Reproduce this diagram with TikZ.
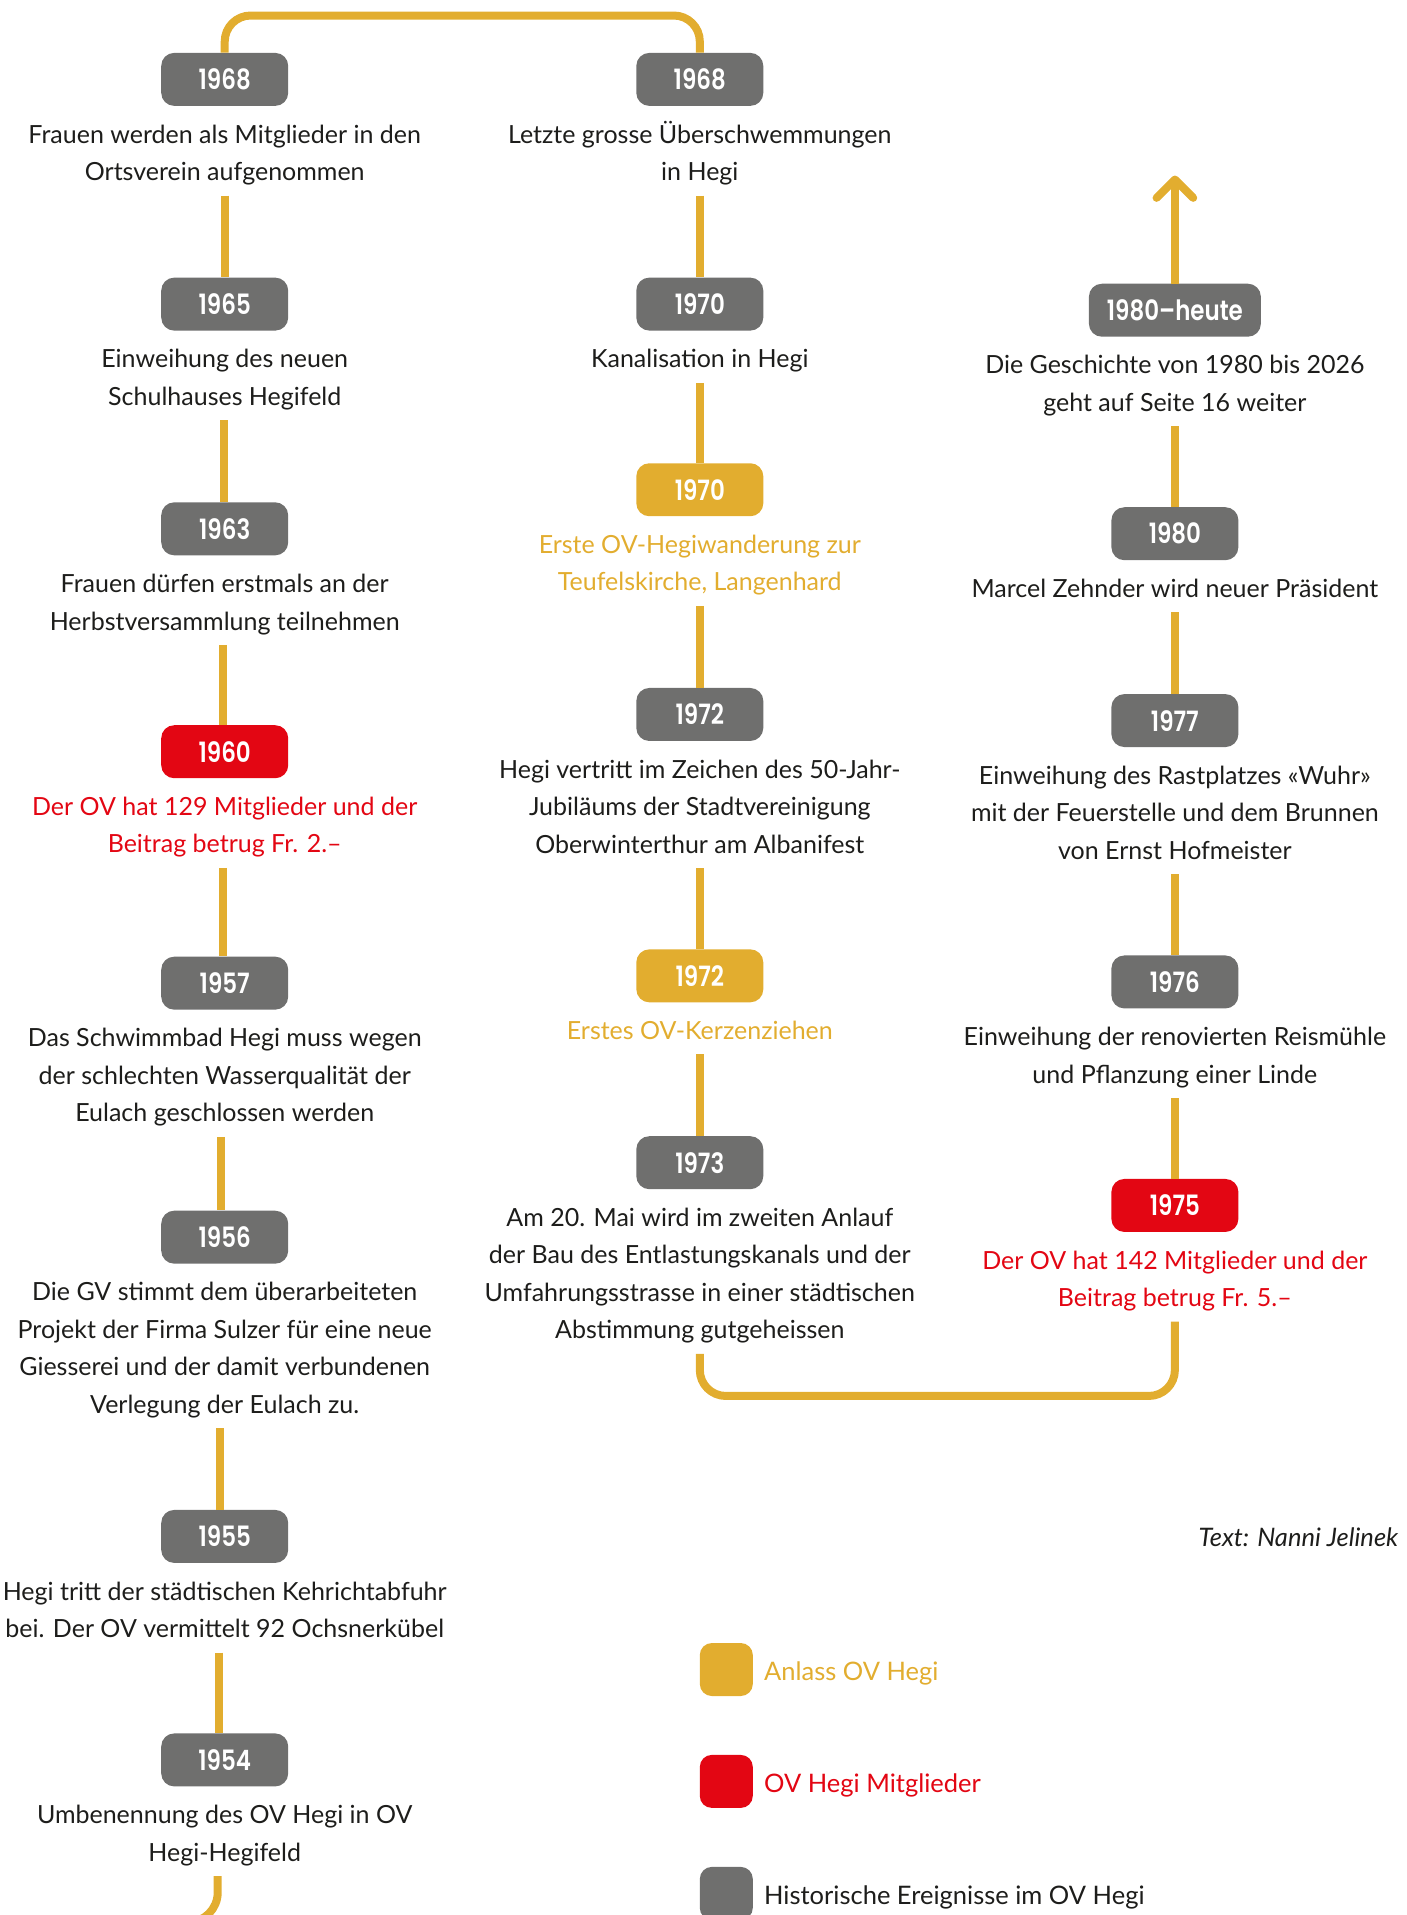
\documentclass[tikz,border=0pt]{standalone}
\usepackage{fontspec}
\setmainfont{Lato}
\newfontfamily\yrfam{Poppins}[FakeStretch=0.82, BoldFont={Poppins SemiBold}]
\usetikzlibrary{calc}
\definecolor{ovgold}{HTML}{E2AD2F}
\definecolor{ovred}{HTML}{E30613}
\definecolor{boxgray}{HTML}{6F6F6E}
\definecolor{txtdark}{HTML}{1D1D1B}
\begin{document}
\begin{tikzpicture}[x=1.2214pt,y=-1.2214pt,
  yr/.style={rounded corners=13pt, minimum width=127pt, minimum height=53pt, inner xsep=18pt, inner ysep=0pt, text=white, font=\yrfam\bfseries\fontsize{28}{30}\selectfont},
  gy/.style={yr, fill=boxgray},
  rd/.style={yr, fill=ovred},
  gd/.style={yr, fill=ovgold},
  txt/.style={align=center, inner sep=0pt, anchor=north, text=txtdark, font=\fontsize{25}{37.5}\selectfont, execute at end node=\strut},
  rtxt/.style={txt, text=ovred},
  gtxt/.style={txt, text=ovgold},
  conn/.style={draw=ovgold, line width=8pt},
  gap/.style={shorten <=3.5pt},
  lsq/.style={rounded corners=12pt, minimum width=53pt, minimum height=53pt, inner sep=0pt},
  ltx/.style={inner sep=0pt, anchor=base west, font=\fontsize{25.5}{30}\selectfont}
]
\useasboundingbox (0,0) rectangle (1152,1568);
% left column
\node[gy] (L1b) at (184,65) {1968};
\node[txt] (L1t) at (184,95.5) {\strut Frauen werden als Mitglieder in den\\Ortsverein aufgenommen};
\node[gy] (L2b) at (184,249) {1965};
\node[txt] (L2t) at (184,279.5) {\strut Einweihung des neuen\\Schulhauses Hegifeld};
\node[gy] (L3b) at (184,433) {1963};
\node[txt] (L3t) at (184,463.5) {\strut Frauen dürfen erstmals an der\\Herbstversammlung teilnehmen};
\node[rd] (L4b) at (184,615.5) {1960};
\node[rtxt] (L4t) at (184,646) {\strut Der OV hat 129 Mitglieder und der\\Beitrag betrug Fr. 2.–};
\node[gy] (L5b) at (184,805) {1957};
\node[txt] (L5t) at (184,835.5) {\strut Das Schwimmbad Hegi muss wegen\\der schlechten Wasserqualität der\\Eulach geschlossen werden};
\node[gy] (L6b) at (184,1013) {1956};
\node[txt] (L6t) at (184,1043.5) {\strut Die GV stimmt dem überarbeiteten\\Projekt der Firma Sulzer für eine neue\\Giesserei und der damit verbundenen\\Verlegung der Eulach zu.};
\node[gy] (L7b) at (184,1258) {1955};
\node[txt] (L7t) at (184,1288.5) {\strut Hegi tritt der städtischen Kehrichtabfuhr\\bei. Der OV vermittelt 92 Ochsnerkübel};
\node[gy] (L8b) at (184,1441) {1954};
\node[txt] (L8t) at (184,1471.5) {\strut Umbenennung des OV Hegi in OV\\Hegi-Hegifeld};
% middle column
\node[gy] (M1b) at (573,65) {1968};
\node[txt] (M1t) at (573,95.5) {\strut Letzte grosse Überschwemmungen\\in Hegi};
\node[gy] (M2b) at (573,249) {1970};
\node[txt] (M2t) at (573,279.5) {\strut Kanalisation in Hegi};
\node[gd] (M3b) at (573,401) {1970};
\node[gtxt] (M3t) at (573,431.5) {\strut Erste OV-Hegiwanderung zur\\Teufelskirche, Langenhard};
\node[gy] (M4b) at (573,585) {1972};
\node[txt] (M4t) at (573,615.5) {\strut Hegi vertritt im Zeichen des 50-Jahr-\\Jubiläums der Stadtvereinigung\\Oberwinterthur am Albanifest};
\node[gd] (M5b) at (573,799) {1972};
\node[gtxt] (M5t) at (573,829.5) {\strut Erstes OV-Kerzenziehen};
\node[gy] (M6b) at (573,952) {1973};
\node[txt] (M6t) at (573,982.5) {\strut Am 20. Mai wird im zweiten Anlauf\\der Bau des Entlastungskanals und der\\Umfahrungsstrasse in einer städtischen\\Abstimmung gutgeheissen};
% right column
\node[gy] (R1b) at (962,254) {1980–heute};
\node[txt] (R1t) at (962,284.5) {\strut Die Geschichte von 1980 bis 2026\\geht auf Seite 16 weiter};
\node[gy] (R2b) at (962,437) {1980};
\node[txt] (R2t) at (962,467.5) {\strut Marcel Zehnder wird neuer Präsident};
\node[gy] (R3b) at (962,590) {1977};
\node[txt] (R3t) at (962,620.5) {\strut Einweihung des Rastplatzes «Wuhr»\\mit der Feuerstelle und dem Brunnen\\von Ernst Hofmeister};
\node[gy] (R4b) at (962,804) {1976};
\node[txt] (R4t) at (962,834.5) {\strut Einweihung der renovierten Reismühle\\und Pflanzung einer Linde};
\node[rd] (R5b) at (962,987) {1975};
\node[rtxt] (R5t) at (962,1017.5) {\strut Der OV hat 142 Mitglieder und der\\Beitrag betrug Fr. 5.–};
% coordinates
\coordinate (top) at (0,12.7);
\coordinate (ubot) at (0,1143);
\coordinate (tail) at (60,1574);
\coordinate (tip) at (962,147);
% connectors
\draw[conn, rounded corners=26pt] (L1b.north) -- (L1b.north |- top) -- (M1b.north |- top) -- (M1b.north);
\foreach \a/\b/\s in {L1t/L2b/0, L2t/L3b/-1, L3t/L4b/-2, L4t/L5b/-2, L5t/L6b/-3.5, L6t/L7b/-4.5, L7t/L8b/-5.5,
                   M1t/M2b/0, M2t/M3b/0, M3t/M4b/0, M4t/M5b/0, M5t/M6b/0,
                   R1t/R2b/0, R2t/R3b/0, R3t/R4b/0, R4t/R5b/0}
  \draw[conn, gap] ([xshift=\s pt]\a.south) -- ([xshift=\s pt]\b.north);
\draw[conn, gap, rounded corners=30pt] ([xshift=-7pt]L8t.south) -- ([xshift=-7pt]L8t.south |- tail) -- (tail);
\draw[conn, rounded corners=26pt, shorten <=3.5pt, shorten >=3.5pt] (M6t.south) -- (M6t.south |- ubot) -- (R5t.south |- ubot) -- (R5t.south);
\draw[conn] (R1b.north) -- (tip);
\draw[conn, line cap=round, line join=round] ($(tip)+(-15,15)$) -- (tip) -- ($(tip)+(15,15)$);
% credit
\node[inner sep=0pt, anchor=base east, text=txtdark, font=\itshape\fontsize{25.5}{30}\selectfont] (credit) at (1145,1266) {Text: Nanni Jelinek};
% legend
\node[lsq, fill=ovgold] (lg1) at (594.7,1367) {};
\node[ltx, text=ovgold] (lt1) at (625.5,1376.3) {Anlass OV Hegi};
\node[lsq, fill=ovred] (lg2) at (594.7,1458.6) {};
\node[ltx, text=ovred] (lt2) at (625.5,1467.9) {OV Hegi Mitglieder};
\node[lsq, fill=boxgray] (lg3) at (594.7,1550.3) {};
\node[ltx, text=txtdark] (lt3) at (625.5,1559.6) {Historische Ereignisse im OV Hegi};
\end{tikzpicture}
\end{document}
